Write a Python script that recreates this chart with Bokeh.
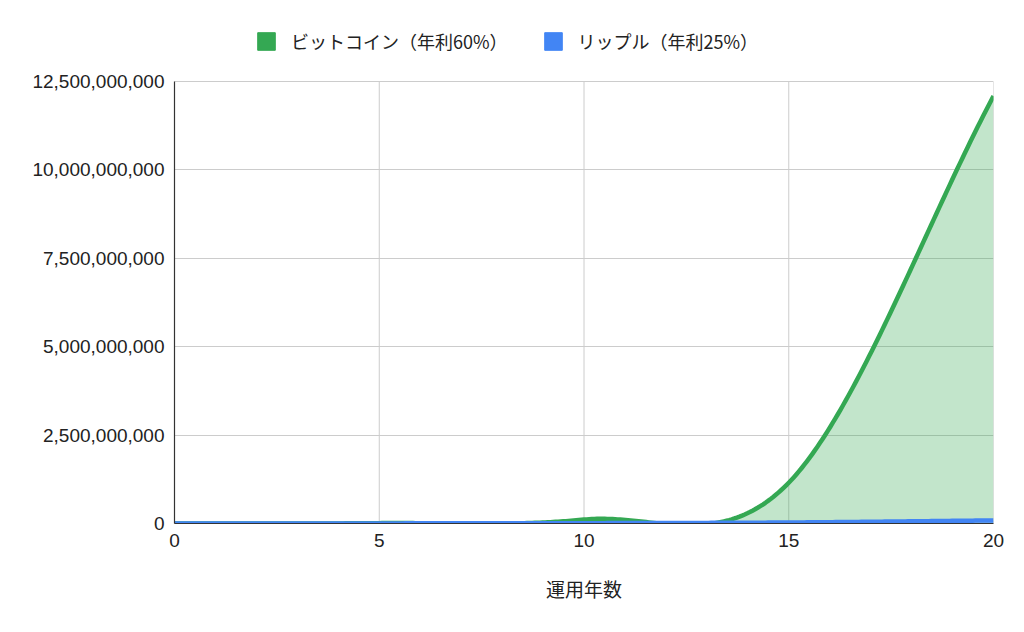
import numpy as np
from bokeh.plotting import figure
from bokeh.models import (Range1d, FixedTicker, NumeralTickFormatter, Legend,
                          LegendItem, ColumnDataSource)
from bokeh.embed import file_html
from bokeh.resources import INLINE

# ---- data ----
years = [0, 5, 10, 15, 20]
bitcoin = [1_000_000, 10_500_000, 110_000_000, 1_153_000_000, 12_089_000_000]
ripple = [1_000_000, 3_050_000, 9_310_000, 28_420_000, 86_740_000]
series_names = ["ビットコイン（年利60%）", "リップル（年利25%）"]
x_ticks = [0, 5, 10, 15, 20]
y_ticks = [0, 2_500_000_000, 5_000_000_000, 7_500_000_000, 10_000_000_000, 12_500_000_000]
x_title = "運用年数"

GREEN = "#34A853"
BLUE = "#4285F4"
GRID = "#cccccc"

Y_MAX = y_ticks[-1]
PLOT_H = 442      # pixel height of the value area
TOP_PAD = 81      # room above the value area (legend lives there)


def smooth(xs, ys, steps=80):
    """Cubic Hermite (Catmull-Rom style) rendering path through the data points."""
    xs = np.asarray(xs, float)
    ys = np.asarray(ys, float)
    n = len(xs)
    mx = np.empty(n)
    my = np.empty(n)
    for i in range(n):
        lo, hi = max(i - 1, 0), min(i + 1, n - 1)
        mx[i] = (xs[hi] - xs[lo]) / (hi - lo)
        my[i] = (ys[hi] - ys[lo]) / (hi - lo)
    t = np.linspace(0, 1, steps)
    h00 = 2 * t**3 - 3 * t**2 + 1
    h10 = t**3 - 2 * t**2 + t
    h01 = -2 * t**3 + 3 * t**2
    h11 = t**3 - t**2
    ox, oy = [], []
    for i in range(n - 1):
        sx = h00 * xs[i] + h10 * mx[i] + h01 * xs[i + 1] + h11 * mx[i + 1]
        sy = h00 * ys[i] + h10 * my[i] + h01 * ys[i + 1] + h11 * my[i + 1]
        if i > 0:
            sx, sy = sx[1:], sy[1:]
        ox.extend(sx)
        oy.extend(sy)
    return np.array(ox), np.array(oy)


bx, by = smooth(years, bitcoin)
rx, ry = smooth(years, ripple)
src_b = ColumnDataSource(dict(x=bx, y=by, z=np.zeros_like(bx)))
src_r = ColumnDataSource(dict(x=rx, y=ry, z=np.zeros_like(rx)))

p = figure(width=1008, height=616, output_backend="svg", toolbar_location=None,
           x_range=Range1d(0, 20),
           y_range=Range1d(0, Y_MAX * (PLOT_H + TOP_PAD) / PLOT_H),
           min_border_left=174, min_border_right=15, min_border_top=0,
           min_border_bottom=93)

p.background_fill_color = "white"
p.border_fill_color = "white"
p.outline_line_color = None

# horizontal grid lines
p.ygrid.ticker = FixedTicker(ticks=y_ticks)
p.ygrid.grid_line_color = GRID
p.ygrid.grid_line_width = 1
# vertical grid lines limited to the value area
p.xgrid.visible = False
p.segment(x0=x_ticks, y0=[0] * len(x_ticks), x1=x_ticks, y1=[Y_MAX] * len(x_ticks),
          line_color=GRID, line_width=1, level="underlay")

# axes
for ax in (p.xaxis[0], p.yaxis[0]):
    ax.axis_line_color = "#333333"
    ax.axis_line_width = 1.2
    ax.major_tick_line_color = None
    ax.minor_tick_line_color = None
    ax.major_tick_out = 0
    ax.major_tick_in = 0
    ax.minor_tick_out = 0
    ax.minor_tick_in = 0
    ax.major_label_text_font = "Liberation Sans"
    ax.major_label_text_font_size = "19px"
    ax.major_label_text_color = "#222222"
p.yaxis.bounds = (0, Y_MAX)
p.xaxis.ticker = FixedTicker(ticks=x_ticks)
p.yaxis.ticker = FixedTicker(ticks=y_ticks)
p.yaxis.formatter = NumeralTickFormatter(format="0,0")
p.yaxis.major_label_standoff = 10
p.xaxis.major_label_standoff = 10
p.xaxis.axis_label = x_title
p.xaxis.axis_label_text_font = "Noto Sans CJK JP"
p.xaxis.axis_label_text_font_size = "19px"
p.xaxis.axis_label_text_font_style = "normal"
p.xaxis.axis_label_text_color = "#222222"
p.xaxis.axis_label_standoff = 25

# areas and lines
p.varea(x="x", y1="z", y2="y", source=src_b, fill_color=GREEN, fill_alpha=0.3)
p.varea(x="x", y1="z", y2="y", source=src_r, fill_color=BLUE, fill_alpha=0.3)
p.line(x="x", y="y", source=src_b, line_color=GREEN, line_width=4.5, line_join="round")
p.line(x="x", y="y", source=src_r, line_color=BLUE, line_width=4.5, line_join="round")

# legend swatches (renderers with no drawable geometry)
nan = [float("nan")]
sw_b = p.quad(left=nan, right=nan, top=nan, bottom=nan, fill_color=GREEN, line_color=GREEN,
              line_width=1)
sw_r = p.quad(left=nan, right=nan, top=nan, bottom=nan, fill_color=BLUE, line_color=BLUE,
              line_width=1)

legend = Legend(items=[LegendItem(label=series_names[0], renderers=[sw_b]),
                       LegendItem(label=series_names[1], renderers=[sw_r])],
                orientation="horizontal", location=(81, PLOT_H + 27),
                glyph_width=22, glyph_height=22, label_height=22,
                label_standoff=14, spacing=34, padding=0, margin=0,
                label_text_font="Noto Sans CJK JP", label_text_font_size="18px",
                label_text_color="#222222", background_fill_alpha=0,
                border_line_color=None)
p.add_layout(legend)

open("out.html", "w").write(file_html(p, INLINE))
